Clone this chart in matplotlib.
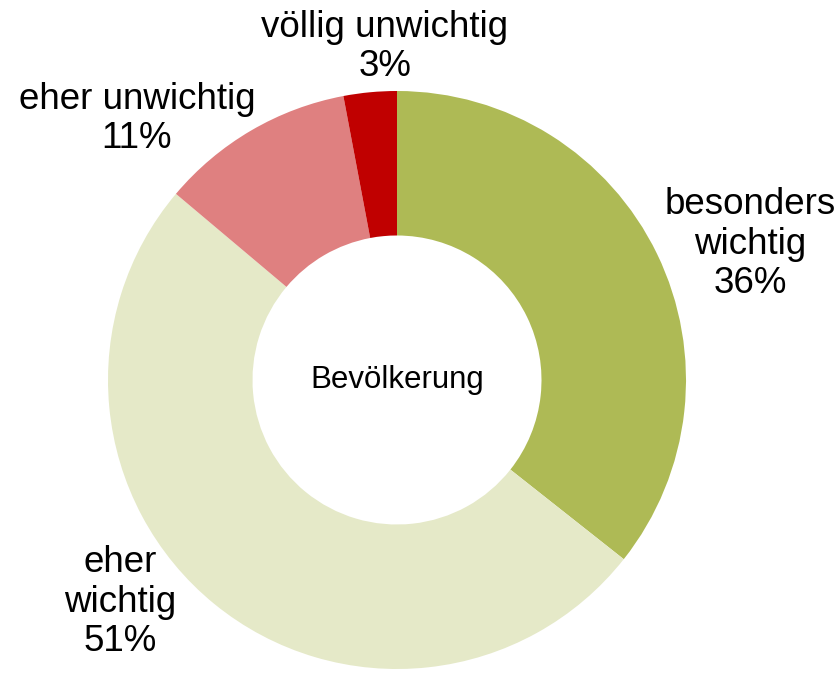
import matplotlib
matplotlib.use("Agg")
import matplotlib.pyplot as plt

categories = ["besonders\nwichtig", "eher\nwichtig", "eher unwichtig", "völlig unwichtig"]
values = [36, 51, 11, 3]
colors = ["#AEBA55", "#E5E9C8", "#DF8080", "#C00000"]
center_label = "Bevölkerung"

plt.rcParams['font.family'] = ['Liberation Sans', 'DejaVu Sans']

W, H = 840, 673
fig = plt.figure(figsize=(W / 100, H / 100), dpi=100)
ax = fig.add_axes([0, 0, 1, 1])
ax.set_xlim(0, W)
ax.set_ylim(0, H)
ax.axis("off")

cx, cy, R = 397, H - 380, 289
ax.pie(values, colors=colors, startangle=90, counterclock=False,
       center=(cx, cy), radius=R,
       wedgeprops=dict(width=R * 0.5, linewidth=0))
ax.set_xlim(0, W)
ax.set_ylim(0, H)
ax.set_aspect("auto")

label_pos = [(750, H - 244), (120, H - 602), (137, H - 119), (385, H - 47)]
for cat, v, (x, y) in zip(categories, values, label_pos):
    ax.text(x, y, f"{cat}\n{v}%", ha="center", va="center", fontsize=26.5,
            linespacing=1.17, color="black")

ax.text(cx, cy, center_label, ha="center", va="center", fontsize=22.5, color="black")

fig.savefig("out.png", dpi=100)
